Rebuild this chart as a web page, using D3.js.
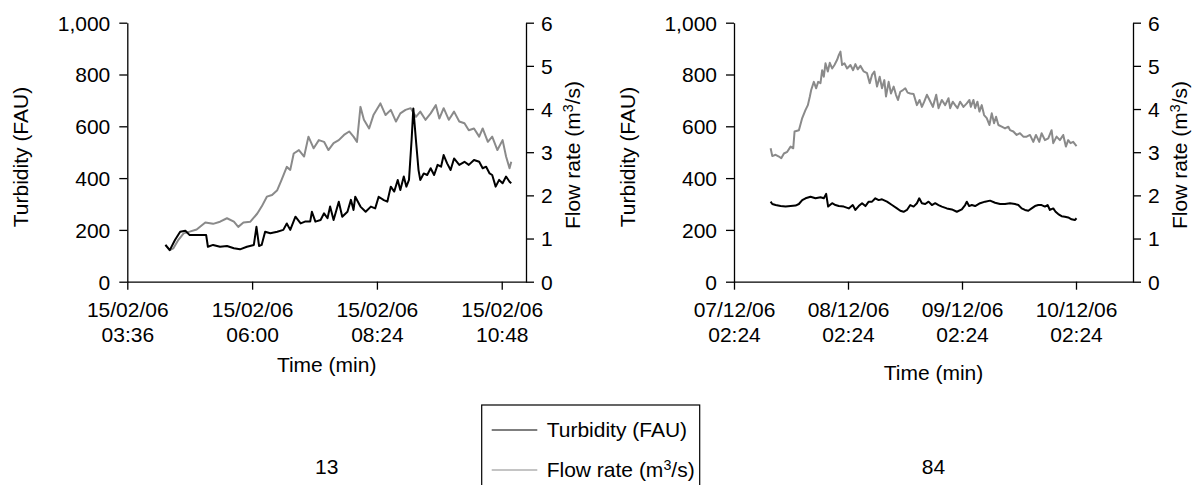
<!DOCTYPE html>
<html><head><meta charset="utf-8">
<script src="https://cdn.jsdelivr.net/npm/d3@7"></script>
<style>
body{margin:0;background:#fff}
svg text{font-family:"Liberation Sans",Arial,Helvetica,sans-serif;fill:#000}
</style>
</head><body>
<svg id="c" width="1199" height="485"></svg>
<script>
// ---------- Data: station 13 (15/02/06), times HH:MM ----------
const flowTimes13 = ["04:20","04:25","04:29","04:35","04:41","04:48","04:56","05:06","05:15","05:23","05:31","05:39","05:44","05:50","05:58","06:06","06:11","06:17","06:23","06:29","06:34","06:40","06:44","06:48","06:54","07:00","07:05","07:11","07:17","07:23","07:28","07:34","07:40","07:46","07:52","07:57","08:01","08:05","08:09","08:15","08:20","08:28","08:34","08:40","08:46","08:51","08:57","09:03","09:09","09:14","09:20","09:26","09:32","09:36","09:41","09:47","09:53","09:59","10:05","10:10","10:16","10:22","10:26","10:32","10:37","10:43","10:49","10:53","10:57","10:59"];
const flowValues13 = [0.85,0.73,0.77,0.97,1.12,1.16,1.21,1.37,1.34,1.39,1.47,1.39,1.27,1.37,1.39,1.58,1.74,1.97,2.01,2.12,2.36,2.66,2.59,2.97,3.05,2.90,3.36,3.09,3.28,3.24,3.05,3.21,3.28,3.40,3.48,3.36,3.24,4.05,3.75,3.55,3.86,4.13,3.86,3.98,3.71,3.90,3.98,4.02,3.82,3.94,3.75,3.90,4.09,3.78,4.02,3.75,3.94,3.71,3.67,3.51,3.55,3.36,3.55,3.24,3.36,3.05,3.28,2.90,2.63,2.78];
const turbTimes13 = ["04:20","04:25","04:31","04:37","04:43","04:48","05:00","05:07","05:09","05:15","05:23","05:31","05:39","05:46","05:54","06:02","06:05","06:08","06:11","06:15","06:21","06:29","06:36","06:40","06:44","06:50","06:56","07:01","07:07","07:09","07:13","07:19","07:23","07:27","07:30","07:34","07:40","07:44","07:50","07:54","07:57","07:59","08:05","08:11","08:17","08:22","08:26","08:32","08:36","08:40","08:44","08:48","08:51","08:55","08:58","09:01","09:04","09:06","09:09","09:12","09:14","09:18","09:22","09:26","09:30","09:34","09:38","09:41","09:45","09:49","09:53","09:59","10:05","10:10","10:16","10:22","10:26","10:30","10:34","10:37","10:41","10:45","10:49","10:53","10:57","10:59"];
const turbValues13 = [142,122,161,193,197,180,180,180,135,142,135,138,129,125,135,142,212,138,142,193,187,193,200,225,200,251,225,232,232,270,232,238,264,245,290,238,309,251,270,316,277,328,290,270,290,283,328,315,309,367,348,393,354,406,367,393,547,669,547,431,393,418,412,438,412,451,444,489,457,431,476,451,463,451,470,463,438,444,418,412,367,393,380,406,386,380];

// ---------- Data: station 84, hours since 07/12/06 00:00 ----------
const flowHours84 = [10.11,10.46,11.16,11.86,12.35,12.91,13.61,14.31,14.87,15.15,16.06,16.76,17.46,17.95,18.37,18.65,19.21,19.70,20.12,20.61,20.96,21.31,21.66,22.15,22.57,23.06,23.55,24.11,24.46,24.81,25.16,25.65,26.21,26.91,27.47,27.96,28.45,29.01,29.71,30.41,30.97,31.46,31.95,32.51,33.07,33.56,34.05,34.40,34.96,35.45,36.01,36.50,36.92,37.41,37.97,38.46,38.95,39.51,40.21,40.91,41.47,41.96,42.45,43.01,43.57,44.27,44.97,45.46,46.16,46.86,47.56,47.91,48.47,48.96,49.45,50.01,50.71,51.41,51.97,52.25,52.81,53.16,53.65,54.07,54.56,55.05,55.61,56.17,56.66,57.15,57.57,58.06,58.76,59.46,60.16,60.51,61.21,61.91,62.61,63.31,64.01,64.71,65.41,65.97,66.67,67.16,67.86,68.56,69.26,69.61,70.31,71.01,71.71,72.27,72.76,73.25,73.81,74.51];
const flowValues84 = [3.09,2.91,2.94,2.90,2.86,2.97,3.01,3.13,3.09,3.48,3.51,3.79,3.98,4.09,4.29,4.44,4.63,4.48,4.63,4.60,4.90,4.75,5.06,4.87,5.07,4.94,5.02,5.14,5.25,5.33,5.02,5.06,4.94,5.02,4.90,5.04,4.92,5.00,4.87,4.83,4.60,4.79,4.87,4.52,4.75,4.48,4.67,4.29,4.63,4.36,4.52,4.33,4.21,4.40,4.44,4.48,4.38,4.36,4.35,4.09,4.21,4.05,4.17,4.33,4.21,4.05,4.33,4.02,4.21,4.09,4.25,4.02,4.17,4.09,4.02,4.17,4.05,4.13,4.21,4.05,4.21,4.02,4.17,3.94,4.09,3.86,3.79,3.63,3.90,3.67,3.82,3.63,3.59,3.55,3.59,3.51,3.48,3.40,3.44,3.36,3.36,3.40,3.24,3.40,3.24,3.44,3.28,3.32,3.51,3.21,3.36,3.28,3.40,3.13,3.28,3.21,3.24,3.14];
const turbHours84 = [10.11,10.46,11.16,12.21,13.26,14.31,15.36,16.06,16.76,17.46,18.51,19.56,20.61,21.31,21.80,22.22,23.06,23.76,24.46,25.51,26.56,27.40,27.96,28.66,29.36,30.06,30.76,31.46,32.16,32.86,33.56,34.61,35.66,36.71,37.41,38.11,38.81,39.51,40.21,40.91,41.40,41.96,42.66,43.36,44.06,44.76,45.46,46.16,47.21,48.26,49.31,50.36,51.06,51.41,51.90,52.46,53.16,54.21,55.26,56.31,57.36,58.41,59.46,60.51,61.56,62.26,62.96,63.66,64.36,65.06,65.76,66.46,67.16,67.86,68.42,68.91,69.61,70.10,70.66,71.36,72.06,72.76,73.46,74.16,74.51];
const turbValues84 = [309,300,296,292,290,292,294,300,315,322,328,322,326,322,339,290,303,296,292,290,283,296,277,292,303,292,309,309,322,315,318,309,296,283,274,270,277,296,290,303,322,303,300,309,296,303,296,290,283,279,270,279,296,309,292,296,292,303,309,313,305,300,300,303,300,296,283,277,274,283,292,296,296,290,296,277,283,270,261,253,251,248,241,238,245];

// ---------- Axis / label text ----------
const turbTicks = [0,200,400,600,800,1000];
const flowTicks = [0,1,2,3,4,5,6];
const xTicks13 = ["15/02/06 03:36","15/02/06 06:00","15/02/06 08:24","15/02/06 10:48"];
const xTicks84 = ["07/12/06 02:24","08/12/06 02:24","09/12/06 02:24","10/12/06 02:24"];
const xDomain13 = ["15/02/06 03:36","15/02/06 11:16"];
const xDomain84 = ["07/12/06 02:24","10/12/06 14:24"];
const panelNames = ["13","84"];
const legendLabels = ["Turbidity (FAU)","Flow rate (m3/s)"];

// ---------- Drawing ----------
const parse = d3.timeParse("%d/%m/%y %H:%M");
const svg = d3.select("#c");
const TOP = 22.7, BOT = 281.7, FS = 21;
const GRAY = "#8a8a8a";

const base84 = new Date(2006, 11, 7, 0, 0);
const data13 = {
  flow: flowTimes13.map((t,i)=>({t:parse("15/02/06 "+t), v:flowValues13[i]})),
  turb: turbTimes13.map((t,i)=>({t:parse("15/02/06 "+t), v:turbValues13[i]}))
};
const data84 = {
  flow: flowHours84.map((h,i)=>({t:new Date(+base84 + h*3600e3), v:flowValues84[i]})),
  turb: turbHours84.map((h,i)=>({t:new Date(+base84 + h*3600e3), v:turbValues84[i]}))
};

function flowTitle(sel){
  sel.append("tspan").text("Flow rate (m");
  sel.append("tspan").attr("font-size", FS*0.68).attr("dy", -7).text("3");
  sel.append("tspan").attr("dy", 7).text("/s)");
}

function panel(left, right, domain, ticks, data, name, timeTitleY){
  const g = svg.append("g");
  const x = d3.scaleTime().domain(domain.map(parse)).range([left, right]);
  const yT = d3.scaleLinear().domain([0,1000]).range([BOT, TOP]);
  const yF = d3.scaleLinear().domain([0,6]).range([BOT, TOP]);

  g.append("path").datum(data.flow)
    .attr("d", d3.line().x(d=>x(d.t)).y(d=>yF(d.v)))
    .attr("fill","none").attr("stroke",GRAY).attr("stroke-width",2).attr("stroke-linejoin","round");
  g.append("path").datum(data.turb)
    .attr("d", d3.line().x(d=>x(d.t)).y(d=>yT(d.v)))
    .attr("fill","none").attr("stroke","#000").attr("stroke-width",2).attr("stroke-linejoin","round");

  // bottom axis
  const ax = g.append("g").attr("transform",`translate(0,${BOT})`)
    .call(d3.axisBottom(x).tickValues(ticks.map(parse)).tickSize(8).tickSizeOuter(0).tickFormat(""));
  const tf1 = d3.timeFormat("%d/%m/%y"), tf2 = d3.timeFormat("%H:%M");
  ax.selectAll(".tick").each(function(d){
    const t = d3.select(this);
    t.append("text").attr("y",35.2).attr("text-anchor","middle").attr("font-size",FS).attr("fill","#000").text(tf1(d));
    t.append("text").attr("y",60).attr("text-anchor","middle").attr("font-size",FS).attr("fill","#000").text(tf2(d));
  });

  // left axis
  const al = g.append("g").attr("transform",`translate(${left},0)`)
    .call(d3.axisLeft(yT).tickValues(turbTicks).tickSize(8).tickPadding(9).tickSizeOuter(0).tickFormat(d3.format(",")));
  al.selectAll("text").attr("font-size",FS).attr("dy","0.35em");

  // right axis
  const ar = g.append("g").attr("transform",`translate(${right},0)`)
    .call(d3.axisRight(yF).tickValues(flowTicks).tickSize(8).tickPadding(7).tickSizeOuter(0).tickFormat(d3.format("d")));
  ar.selectAll("text").attr("font-size",FS).attr("dy","0.35em");

  g.selectAll(".domain, .tick line").attr("stroke","#000").attr("stroke-width",1.3);
  g.selectAll("g").attr("font-family",null).attr("font-size",null);

  // titles
  g.append("text").attr("transform",`translate(${left-99},157) rotate(-90)`)
    .attr("text-anchor","middle").attr("font-size",FS).text("Turbidity (FAU)");
  g.append("text").attr("transform",`translate(${right+54},155) rotate(-90)`)
    .attr("text-anchor","middle").attr("font-size",FS).call(flowTitle);
  g.append("text").attr("x",(left+right)/2).attr("y",timeTitleY)
    .attr("text-anchor","middle").attr("font-size",FS).text("Time (min)");
  g.append("text").attr("x",(left+right)/2).attr("y",474)
    .attr("text-anchor","middle").attr("font-size",FS).text(name);
}

panel(127.3, 526, xDomain13, xTicks13, data13, panelNames[0], 372);
panel(734, 1133, xDomain84, xTicks84, data84, panelNames[1], 380);

// legend
const lg = svg.append("g");
lg.append("rect").attr("x",481.7).attr("y",405).attr("width",218).attr("height",90)
  .attr("fill","#fff").attr("stroke","#000").attr("stroke-width",1.2);
[{c:"#000",y:430,label:legendLabels[0]},{c:GRAY,y:470,label:legendLabels[1]}].forEach((e,i)=>{
  lg.append("line").attr("x1",491.7).attr("x2",537.3).attr("y1",e.y).attr("y2",e.y)
    .attr("stroke",e.c).attr("stroke-width",1.2);
  const t = lg.append("text").attr("x",546.7).attr("y",e.y+7).attr("font-size",FS);
  if(i===0) t.text(e.label); else t.call(flowTitle);
});
</script>
</body></html>
